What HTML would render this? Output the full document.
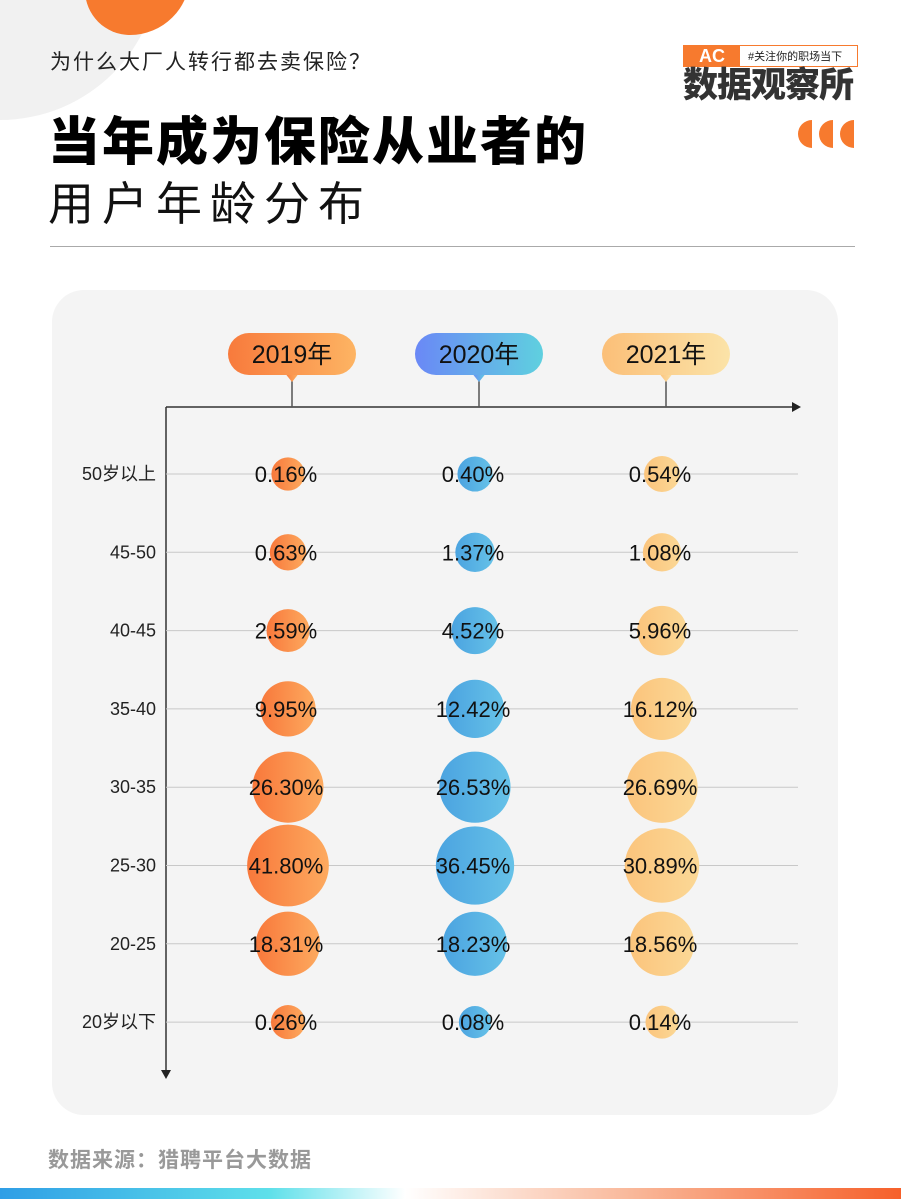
<!DOCTYPE html>
<html><head><meta charset="utf-8">
<style>
body{margin:0;width:901px;height:1201px;position:relative;overflow:hidden;background:#fff;font-family:"Liberation Sans","Noto Sans CJK SC",sans-serif;}
.abs{position:absolute;}
.q{position:absolute;top:120px;width:14px;height:28px;border-radius:14px 0 0 14px;background:#f77a2e;}
</style></head>
<body>
<div class="abs" style="left:-160px;top:-200px;width:320px;height:320px;border-radius:50%;background:#f1f1f1;"></div>
<div class="abs" style="left:85px;top:-60px;width:105px;height:95px;border-radius:0 0 60px 45px;background:#f77a2e;"></div>
<div class="abs" style="left:50px;top:46px;font-size:21px;color:#222;letter-spacing:2px;">为什么大厂人转行都去卖保险？</div>
<div class="abs" style="left:48px;top:100px;font-size:52px;font-weight:900;color:#000;letter-spacing:2px;">当年成为保险从业者的</div>
<div class="abs" style="left:48px;top:168px;font-size:46px;color:#111;letter-spacing:8px;">用户年龄分布</div>
<div class="abs" style="left:683px;top:45px;width:175px;">
  <div style="display:flex;align-items:center;border:1.5px solid #f77a2e;height:20px;">
    <div style="background:#f77a2e;color:#fff;font-weight:900;font-size:18px;width:56px;text-align:center;line-height:20px;">AC</div>
    <div style="font-size:11px;color:#222;padding-left:8px;">#关注你的职场当下</div>
  </div>
  <div style="font-size:35px;font-weight:900;color:#333;line-height:38px;letter-spacing:-1px;white-space:nowrap;">数据观察所</div>
</div>
<div>
<div class="q" style="left:798px"></div><div class="q" style="left:819px"></div><div class="q" style="left:840px"></div>
</div>
<div class="abs" style="left:50px;top:246px;width:805px;height:1px;background:#aaa;"></div>
<div class="abs" style="left:52px;top:290px;width:786px;height:825px;border-radius:32px;background:#f4f4f4;"></div>
<svg class="abs" style="left:0;top:0" width="901" height="1201" id="chart">
<defs>
<linearGradient id="g0" x1="0" x2="1"><stop offset="0" stop-color="#f87a3c"/><stop offset="1" stop-color="#fdb463"/></linearGradient>
<linearGradient id="g1" x1="0" x2="1"><stop offset="0" stop-color="#6a88f6"/><stop offset="1" stop-color="#5fd0df"/></linearGradient>
<linearGradient id="g2" x1="0" x2="1"><stop offset="0" stop-color="#fbbf78"/><stop offset="1" stop-color="#fbe3a8"/></linearGradient>
<linearGradient id="b0" x1="0" x2="1"><stop offset="0" stop-color="#f8783b"/><stop offset="1" stop-color="#fdaa5f"/></linearGradient>
<linearGradient id="b1" x1="0" x2="1"><stop offset="0" stop-color="#4ba3e0"/><stop offset="1" stop-color="#66c2e8"/></linearGradient>
<linearGradient id="b2" x1="0" x2="1"><stop offset="0" stop-color="#fbc47c"/><stop offset="1" stop-color="#fbd896"/></linearGradient>
<linearGradient id="bar" x1="0" x2="1"><stop offset="0" stop-color="#2f9ee6"/><stop offset="0.3" stop-color="#5fe0ea"/><stop offset="0.45" stop-color="#ffffff"/><stop offset="0.7" stop-color="#f9b89a"/><stop offset="1" stop-color="#f6602a"/></linearGradient>
</defs>
</svg>
<div class="abs" style="left:48px;top:1144px;font-size:21px;font-weight:bold;color:#999;letter-spacing:1px;">数据来源：猎聘平台大数据</div>
<script>
const years=['2019年','2020年','2021年'];
const ages=['50岁以上','45-50','40-45','35-40','30-35','25-30','20-25','20岁以下'];
const v2019=[0.16,0.63,2.59,9.95,26.30,41.80,18.31,0.26];
const v2020=[0.40,1.37,4.52,12.42,26.53,36.45,18.23,0.08];
const v2021=[0.54,1.08,5.96,16.12,26.69,30.89,18.56,0.14];
const series=[v2019,v2020,v2021];
const svg=document.getElementById('chart');
const NS='http://www.w3.org/2000/svg';
function mk(t,a){const e=document.createElementNS(NS,t);for(const k in a)e.setAttribute(k,a[k]);svg.appendChild(e);return e;}
const xCol=i=>292+i*187;
const yRow=i=>474+i*78.3;
const rScale=v=>15+4*Math.sqrt(v);
let e=mk('line',{x1:166,y1:407,x2:795,y2:407,stroke:'#333','stroke-width':1.5});

e=mk('path',{d:'M801 407 L792 402 L792 412 Z',fill:'#222'});

e=mk('line',{x1:166,y1:407,x2:166,y2:1072,stroke:'#333','stroke-width':1.5});

e=mk('path',{d:'M166 1079 L161 1070 L171 1070 Z',fill:'#222'});

ages.forEach((a,i)=>{
  const y=yRow(i);
  let g=mk('line',{x1:166,y1:y,x2:798,y2:y,stroke:'#c8c8c8','stroke-width':1});
  
  let t=mk('text',{x:156,y:y+6,'text-anchor':'end','font-size':18,fill:'#222'});
  t.textContent=a;
  
});
years.forEach((yr,j)=>{
  const x=xCol(j);
  let s=mk('line',{x1:x,y1:372,x2:x,y2:407,stroke:'#555','stroke-width':1.5});
  
  let p=mk('path',{d:`M${x-8} 372 L${x} 382 L${x+8} 372 Z`,fill:`url(#g${j})`});
  
  let r=mk('rect',{x:x-64,y:333,width:128,height:42,rx:21,fill:`url(#g${j})`});
  
  let t=mk('text',{x:x,y:363,'text-anchor':'middle','font-size':25,fill:'#111'});
  t.textContent=yr;
  
  series[j].forEach((v,i)=>{
    const y=yRow(i);
    let c=mk('circle',{cx:x-4,cy:y,r:rScale(v),fill:`url(#b${j})`});
    
    let l=mk('text',{x:x-6,y:y+8,'text-anchor':'middle','font-size':22,fill:'#111'});
    l.textContent=v.toFixed(2)+'%';
    
  });
});
e=mk('rect',{x:0,y:1188,width:901,height:11,fill:'url(#bar)'});

</script>
</body></html>
